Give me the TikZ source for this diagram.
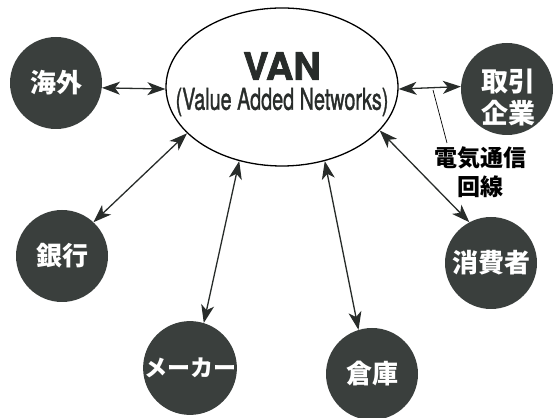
\documentclass[tikz,border=0pt]{standalone}
\usepackage{fontspec}
\usepackage{graphicx}
\usetikzlibrary{shapes.geometric,arrows.meta,calc}
\setmainfont{TeX Gyre Heros}
\newfontfamily\jp{Noto Sans CJK JP}
\newfontfamily\heavyfont[BoldFeatures={FakeBold=2}]{TeX Gyre Heros}
\newfontfamily\subfont[FakeBold=1.5]{TeX Gyre Heros}
\definecolor{ballcol}{RGB}{58,63,61}
\definecolor{linecol}{RGB}{40,44,42}
\tikzset{
  ball/.style={circle,fill=ballcol,draw=none,minimum size=92pt,inner sep=0pt,text=white,font=\jp\bfseries\fontsize{26}{33}\selectfont,align=center},
  link/.style={draw=linecol,line width=1.3pt,{Stealth[length=18pt,width=13pt,inset=5pt]}-{Stealth[length=18pt,width=13pt,inset=5pt]}},
  vanshape/.style={ellipse,draw=black,line width=1.3pt,minimum width=232pt,minimum height=158pt,inner sep=0pt}
}
\begin{document}
\begin{tikzpicture}[x=1pt,y=1pt]
\useasboundingbox (0,0) rectangle (556,417);
\node[vanshape] (van) at (282,330) {};
\node[font=\heavyfont\bfseries\fontsize{38}{40}\selectfont,text=linecol,inner sep=0pt] (vant) at (282,351) {VAN};
\node[font=\subfont\fontsize{30}{32}\selectfont,text=linecol,inner sep=0pt] (vans) at (282,315) {\scalebox{0.66}[1]{(Value Added Networks)}};
\node[ball] (kaigai) at (56,334) {海外};
\node[ball] (ginko) at (62,161) {銀行};
\node[ball] (maker) at (190,49) {\fontsize{23}{26}\selectfont メーカー};
\node[ball] (soko) at (372,43) {倉庫};
\node[ball] (shohi) at (491,154) {消費者};
\node[ball] (torihiki) at (507,328) {};
\node[text=white,font=\jp\bfseries\fontsize{27}{32}\selectfont,align=center] (torit) at (508,320) {取引\\企業};
\draw[link] (kaigai.-6) -- (van.181);
\draw[link] (ginko.47) -- (van.206);
\draw[link] (maker.73) -- (van.240.6);
\draw[link] (soko.107) -- (van.300.5);
\draw[link] (shohi.118) -- (van.336);
\draw[link] (torihiki.177) -- (van.-1.5);
\node[font=\jp\bfseries\fontsize{23}{29}\selectfont,align=center,text=black] (denki) at (480,245) {電気通信\\回線};
\coordinate (tap) at (433,327);
\draw[line width=0.7pt,black] (tap) -- (447,274);
\end{tikzpicture}
\end{document}
